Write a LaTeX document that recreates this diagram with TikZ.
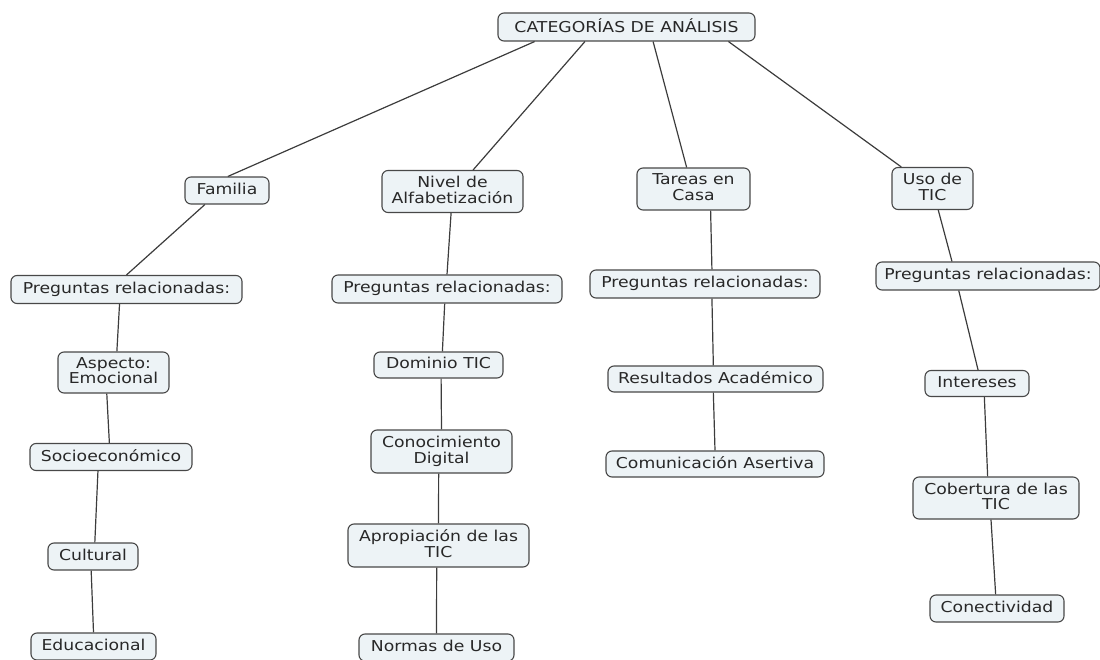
\documentclass[tikz,border=0pt]{standalone}
\usepackage{fontspec}
\setmainfont{DejaVu Sans}[FakeStretch=1.15]
\usetikzlibrary{calc}
\definecolor{boxfill}{RGB}{237,243,246}
\definecolor{boxline}{RGB}{72,72,72}
\definecolor{linkcol}{RGB}{60,60,60}
\definecolor{txtcol}{RGB}{40,40,40}
\newcommand\mystrut{\rule[-3.6pt]{0pt}{11.4pt}}
\newcommand\linkit[4]{\draw[link] ($(#1.south west)!#2!(#1.south east)$) -- ($(#3.north west)!#4!(#3.north east)$);}
\tikzset{
  box/.style={draw=boxline, fill=boxfill, line width=1.1pt, rounded corners=6pt,
    align=center, text=txtcol, inner xsep=5pt, inner ysep=1.5pt,
    font=\fontsize{15}{15.5}\selectfont, minimum height=27pt,
    execute at begin node=\mystrut, execute at end node=\mystrut},
  twoline/.style={minimum height=42pt},
  link/.style={draw=linkcol, line width=1.2pt}
}
\begin{document}
\begin{tikzpicture}[x=1pt,y=-1pt]
\useasboundingbox (0,0) rectangle (1100,660);
% top
\node[box, minimum width=257pt, minimum height=28pt] (cat) at (626.5,27) {CATEGORÍAS DE ANÁLISIS};
% level 1
\node[box, minimum width=84pt] (fam) at (227,190.5) {Familia};
\node[box, twoline, minimum width=141pt] (niv) at (452.5,191.5) {Nivel de\mystrut\\Alfabetización};
\node[box, twoline, minimum width=113pt] (tar) at (693.5,189) {Tareas en\mystrut\\Casa};
\node[box, twoline, minimum width=81pt] (uso) at (932.5,188.5) {Uso de\mystrut\\TIC};
% preguntas
\node[box, minimum width=231pt, minimum height=28pt] (pL) at (126.5,289.5) {Preguntas relacionadas:};
\node[box, minimum width=230pt, minimum height=28pt] (pM) at (447,289) {Preguntas relacionadas:};
\node[box, minimum width=230pt, minimum height=28pt] (pT) at (705,284) {Preguntas relacionadas:};
\node[box, minimum width=224pt, minimum height=28pt] (pU) at (988,276) {Preguntas relacionadas:};
% Familia branch
\node[box, twoline, minimum width=111pt, minimum height=41pt] (asp) at (113.5,372.5) {Aspecto:\mystrut\\Emocional};
\node[box, minimum width=162pt] (soc) at (111,457) {Socioeconómico};
\node[box, minimum width=90pt] (cul) at (93,556.5) {Cultural};
\node[box, minimum width=125pt] (edu) at (93.5,646.5) {Educacional};
% Nivel branch
\node[box, minimum width=129pt, minimum height=26pt] (dom) at (438.5,365) {Dominio TIC};
\node[box, twoline, minimum width=141pt, minimum height=43pt] (con) at (441.5,451.5) {Conocimiento\mystrut\\Digital};
\node[box, twoline, minimum width=181pt, minimum height=43pt] (apr) at (438.5,545.5) {Apropiación de las\mystrut\\TIC};
\node[box, minimum width=155pt] (nor) at (436.5,647.5) {Normas de Uso};
% Tareas branch
\node[box, minimum width=215pt, minimum height=26pt] (res) at (715.5,379) {Resultados Académico};
\node[box, minimum width=218pt, minimum height=26pt] (com) at (715,464) {Comunicación Asertiva};
% Uso branch
\node[box, minimum width=104pt, minimum height=26pt] (int) at (977,383.5) {Intereses};
\node[box, twoline, minimum width=166pt] (cob) at (996,498) {Cobertura de las\mystrut\\TIC};
\node[box, minimum width=134pt] (cnt) at (997,608.5) {Conectividad};
% connectors
\linkit{cat}{0.144}{fam}{0.51}
\linkit{cat}{0.339}{niv}{0.645}
\linkit{cat}{0.603}{tar}{0.44}
\linkit{cat}{0.895}{uso}{0.12}
\linkit{fam}{0.24}{pL}{0.50}
\linkit{pL}{0.47}{asp}{0.53}
\linkit{asp}{0.44}{soc}{0.49}
\linkit{soc}{0.42}{cul}{0.52}
\linkit{cul}{0.48}{edu}{0.50}
\linkit{niv}{0.49}{pM}{0.50}
\linkit{pM}{0.49}{dom}{0.53}
\linkit{dom}{0.52}{con}{0.50}
\linkit{con}{0.48}{apr}{0.50}
\linkit{apr}{0.49}{nor}{0.50}
\linkit{tar}{0.65}{pT}{0.53}
\linkit{pT}{0.53}{res}{0.49}
\linkit{res}{0.49}{com}{0.50}
\linkit{uso}{0.57}{pU}{0.34}
\linkit{pU}{0.37}{int}{0.51}
\linkit{int}{0.57}{cob}{0.45}
\linkit{cob}{0.47}{cnt}{0.49}
\end{tikzpicture}
\end{document}
